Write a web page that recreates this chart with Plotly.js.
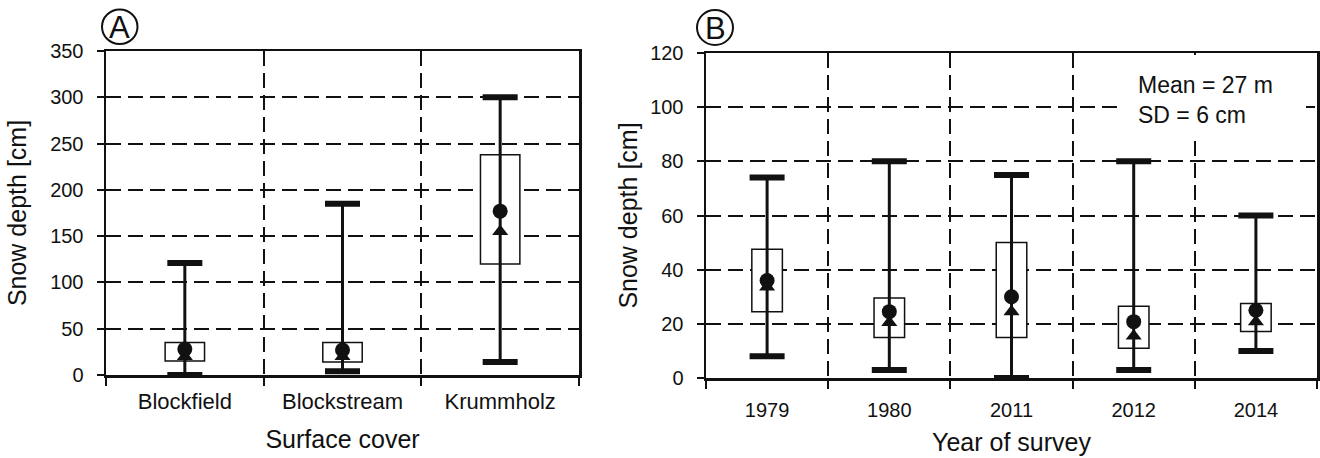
<!DOCTYPE html>
<html>
<head>
<meta charset="utf-8">
<script src="https://cdn.plot.ly/plotly-3.0.1.min.js"></script>
<style>html,body{margin:0;padding:0;background:#fff;}#chart{width:1320px;height:458px;}</style>
</head>
<body>
<div id="chart"></div>
<script>
// Panel A: surface cover
const catA = ['Blockfield', 'Blockstream', 'Krummholz'];
const maxA = [121, 185, 300];
const minA = [0, 4, 14];
const q3A = [35, 35, 238];
const q1A = [15, 14, 120];
const meanA = [28, 27, 177];
const medA = [20, 20, 155];

// Panel B: year of survey
const catB = ['1979', '1980', '2011', '2012', '2014'];
const maxB = [74, 80, 75, 80, 60];
const minB = [8, 3, 0, 3, 10];
const q3B = [47.5, 29.5, 50, 26.5, 27.5];
const q1B = [24.5, 15, 15, 11, 17.2];
const meanB = [36, 24.5, 30, 20.8, 25];
const medB = [33.6, 20.5, 24.5, 15.5, 20.8];

const FONT = 'Liberation Sans, Arial, Helvetica, sans-serif';
const INK = '#111';

function panel(cat, mx, mn, q3, q1, mean, med, xa, ya) {
  const wx = [], wy = [];
  cat.forEach((c, i) => { wx.push(c, c, null); wy.push(mn[i], mx[i], null); });
  return [
    { type: 'bar', x: cat, y: q3.map((v, i) => v - q1[i]), base: q1, width: 0.25,
      marker: { color: '#fff', line: { color: INK, width: 1.5 } }, xaxis: xa, yaxis: ya, hoverinfo: 'skip' },
    { type: 'scatter', mode: 'lines', x: wx, y: wy, line: { color: INK, width: 3 },
      xaxis: xa, yaxis: ya, hoverinfo: 'skip' },
    { type: 'scatter', mode: 'markers', x: cat.concat(cat), y: mx.concat(mn),
      marker: { symbol: 'line-ew', size: 25, line: { color: INK, width: 6 } }, xaxis: xa, yaxis: ya, hoverinfo: 'skip' },
    { type: 'scatter', mode: 'markers', x: cat, y: med,
      marker: { symbol: 'triangle-up', size: 14, color: INK }, xaxis: xa, yaxis: ya },
    { type: 'scatter', mode: 'markers', x: cat, y: mean,
      marker: { symbol: 'circle', size: 15, color: INK }, xaxis: xa, yaxis: ya }
  ];
}

const data = panel(catA, maxA, minA, q3A, q1A, meanA, medA, 'x', 'y')
  .concat(panel(catB, maxB, minB, q3B, q1B, meanB, medB, 'x2', 'y2'));

const W = 1320, H = 458;
const gridCommon = {
  showgrid: true, gridcolor: INK, gridwidth: 2, griddash: '15px,7px',
  showline: true, linecolor: INK, linewidth: 2.5, mirror: true,
  zeroline: false, ticks: 'outside', tickcolor: INK, tickwidth: 2, fixedrange: true
};

const layout = {
  width: W, height: H,
  margin: { l: 0, r: 0, t: 0, b: 0 },
  paper_bgcolor: '#fff', plot_bgcolor: '#fff',
  showlegend: false,
  font: { family: FONT, color: INK },
  xaxis: Object.assign({}, gridCommon, {
    domain: [106 / W, 579 / W], type: 'category', range: [-0.5, 2.5],
    tickson: 'boundaries', ticklen: 8, ticklabelstandoff: 5,
    tickfont: { size: 22, family: FONT, color: INK },
    title: { text: 'Surface cover', font: { size: 25, family: FONT, color: INK }, standoff: 18 }
  }),
  yaxis: Object.assign({}, gridCommon, {
    domain: [(H - 375) / H, (H - 51) / H], range: [0, 350], dtick: 50, ticklen: 7,
    ticklabelstandoff: 9,
    tickfont: { size: 20, family: FONT, color: INK },
    title: { text: 'Snow depth [cm]', font: { size: 25, family: FONT, color: INK }, standoff: 17 }
  }),
  xaxis2: Object.assign({}, gridCommon, {
    domain: [706 / W, 1317 / W], type: 'category', range: [-0.5, 4.5], anchor: 'y2',
    tickson: 'boundaries', ticklen: 8, ticklabelstandoff: 12,
    tickfont: { size: 20, family: FONT, color: INK },
    title: { text: 'Year of survey', font: { size: 25, family: FONT, color: INK }, standoff: 14 }
  }),
  yaxis2: Object.assign({}, gridCommon, {
    domain: [(H - 378) / H, (H - 53) / H], range: [0, 120], dtick: 20, ticklen: 7, anchor: 'x2',
    ticklabelstandoff: 9,
    tickfont: { size: 20, family: FONT, color: INK },
    title: { text: 'Snow depth [cm]', font: { size: 25, family: FONT, color: INK }, standoff: 6 }
  }),
  shapes: [
    { type: 'rect', xref: 'x2 domain', yref: 'y2 domain', x0: (1120 - 706) / 611, x1: (1306 - 706) / 611,
      y0: (378 - 140) / 325, y1: 0.994, fillcolor: '#fff', line: { width: 0 }, layer: 'above' },
    { type: 'circle', xref: 'paper', yref: 'paper', x0: 102 / W, x1: 137.5 / W,
      y0: (H - 44) / H, y1: (H - 9.5) / H, line: { color: INK, width: 2 } },
    { type: 'circle', xref: 'paper', yref: 'paper', x0: 697 / W, x1: 733 / W,
      y0: (H - 45) / H, y1: (H - 10) / H, line: { color: INK, width: 2 } }
  ],
  annotations: [
    { xref: 'x2 domain', yref: 'y2 domain', x: (1136 - 706) / 611, y: (378 - 100) / 325,
      xanchor: 'left', yanchor: 'middle', align: 'left', showarrow: false,
      text: 'Mean = 27 m<br>SD = 6 cm', font: { size: 23, family: FONT, color: INK } },
    { xref: 'paper', yref: 'paper', x: 119.8 / W, y: (H - 27.5) / H, xanchor: 'center', yanchor: 'middle',
      showarrow: false, text: 'A', font: { size: 31, family: FONT, color: INK } },
    { xref: 'paper', yref: 'paper', x: 715 / W, y: (H - 28) / H, xanchor: 'center', yanchor: 'middle',
      showarrow: false, text: 'B', font: { size: 31, family: FONT, color: INK } }
  ]
};

Plotly.newPlot('chart', data, layout, { staticPlot: true, displayModeBar: false });
</script>
</body>
</html>
